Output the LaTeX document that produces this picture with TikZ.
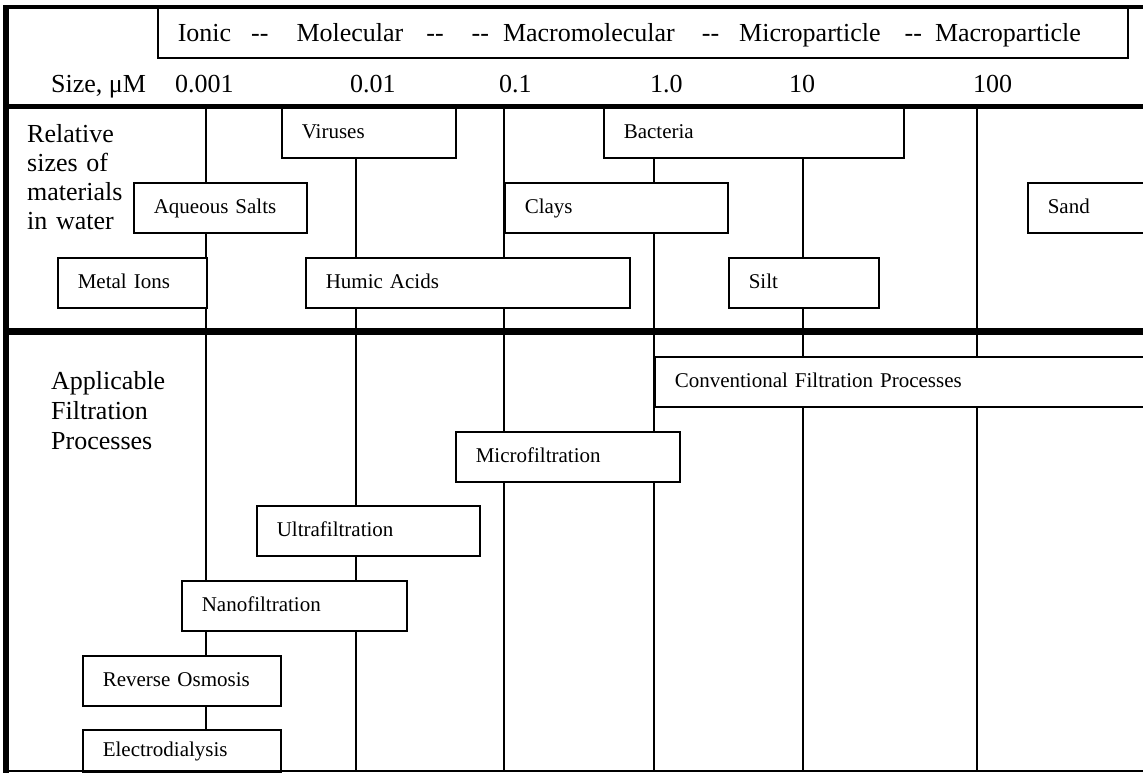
\documentclass[tikz,border=0pt]{standalone}
\usepackage{fontspec}
\setmainfont{Liberation Serif}
\usetikzlibrary{positioning}
\newcommand{\bigtext}{\fontsize{26}{29}\selectfont}
\newcommand{\smalltext}{\fontsize{21}{25}\selectfont}
\newcommand{\twohyph}{\mbox{-}\mbox{-}}

\begin{document}
\begin{tikzpicture}[x=1pt, y=-1pt,
    grid/.style={line width=1.6pt},
    heavy/.style={line width=#1},
    mat/.style={draw, line width=1.6pt, fill=white, anchor=north west,
      minimum height=50pt, inner xsep=20pt, inner ysep=0pt,
      text height=15pt, text depth=3pt, align=left, font=\smalltext, text width=#1},
    sizelbl/.style={anchor=base west, inner sep=0pt, font=\bigtext}]
  \useasboundingbox (0,0) rectangle (1143,772);
  \clip (0,0) rectangle (1143,772);

  % Size columns
  \foreach \x [count=\i] in {206,356,504,654,803,977} {
    \coordinate (top\i) at (\x,106);
    \coordinate (bot\i) at (\x,771);
    \draw[grid] (top\i) -- (bot\i);
  }

  % Particle classes
  \node[draw, line width=1.6pt, anchor=north west, minimum height=50pt,
    inner xsep=20pt, inner ysep=0pt, text width=930pt, text height=18pt,
    text depth=0pt, align=left, font=\bigtext] (classes) at (157,7)
    {Ionic\hspace*{20pt}\twohyph\hspace*{28pt}Molecular\hspace*{23pt}\twohyph\hspace*{28pt}\twohyph\hspace*{14pt}Macromolecular\hspace*{27pt}\twohyph\hspace*{20pt}Microparticle\hspace*{24pt}\twohyph\hspace*{13pt}Macroparticle};

  % Size scale
  \node[sizelbl] (sizehead) at (51,92) {Size, μM};
  \foreach \x/\v [count=\i] in {175/0.001, 350/0.01, 499/0.1, 650/1.0, 789/10, 973/100}
    \node[sizelbl] (size\i) at (\x,92) {\v};

  % Materials in water
  \node[anchor=base west, inner sep=0pt, text width=110pt, align=left,
    font=\bigtext] (relsize) at (27,142) {Relative\\sizes of\\materials\\in water};
  \node[mat=134pt] (viruses) at (281,107) {Viruses};
  \node[mat=260pt] (bacteria) at (603,107) {Bacteria};
  \node[mat=133pt] (salts) at (133,182) {Aqueous Salts};
  \node[mat=183pt] (clays) at (504,182) {Clays};
  \node[mat=160pt] (sand) at (1027,182) {Sand};
  \node[mat=109pt] (metal) at (57,257) {Metal Ions};
  \node[mat=284pt] (humic) at (305,257) {Humic Acids};
  \node[mat=110pt] (silt) at (728,257) {Silt};

  % Filtration processes
  \node[anchor=base west, inner sep=0pt, text width=130pt, align=left,
    font=\fontsize{26}{30}\selectfont] (applic) at (51,389) {Applicable\\Filtration\\Processes};
  \node[mat=560pt] (conv) at (654,356) {Conventional Filtration Processes};
  \node[mat=184pt] (micro) at (455,431) {Microfiltration};
  \node[mat=183pt] (ultra) at (256,505) {Ultrafiltration};
  \node[mat=185pt] (nano) at (181,580) {Nanofiltration};
  \node[mat=158pt] (ro) at (82,655) {Reverse Osmosis};
  \node[mat=158pt, minimum height=42pt] (electro) at (82,729) {Electrodialysis};

  % Frame
  \coordinate (nw) at (3,7);
  \coordinate (ne) at (1143,7);
  \coordinate (sw) at (6,771);
  \coordinate (se) at (1143,771);
  \draw[heavy=4pt] (nw) -- (ne);
  \draw[heavy=6pt] (nw -| sw) -- ([yshift=-2pt]sw);
  \draw[grid] (sw) -- (se);
  \draw[heavy=5pt] (3,106) coordinate (r1w) -- (1143,106) coordinate (r1e);
  \draw[heavy=6.5pt] (3,331.5) coordinate (r2w) -- (1143,331.5) coordinate (r2e);
\end{tikzpicture}
\end{document}
